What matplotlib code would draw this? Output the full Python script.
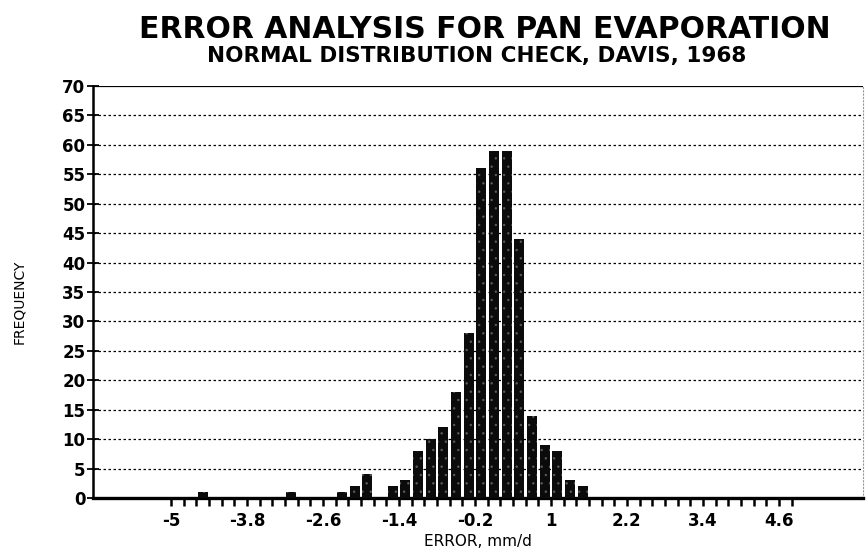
import numpy as np
import matplotlib.pyplot as plt

# bin centres (mm/d) and counts
bin_centers = [-4.5, -3.1, -2.3, -2.1, -1.9, -1.5, -1.3, -1.1, -0.9, -0.7,
               -0.5, -0.3, -0.1, 0.1, 0.3, 0.5, 0.7, 0.9, 1.1, 1.3, 1.5]
frequency = [1, 1, 1, 2, 4, 2, 3, 8, 10, 12,
             18, 28, 56, 59, 59, 44, 14, 9, 8, 3, 2]

x_labels = [-5, -3.8, -2.6, -1.4, -0.2, 1, 2.2, 3.4, 4.6]
y_ticks = list(range(0, 75, 5))

plt.rcParams["font.family"] = ["DejaVu Sans"]
plt.rcParams["hatch.linewidth"] = 0.5

fig = plt.figure(figsize=(8.66, 5.56), dpi=100)
ax = fig.add_axes([93 / 866, 1 - 498 / 556, 1 - 93 / 866 - 0.004, (498 - 86) / 556])

# dotted grid, solid line on top
for y in y_ticks[1:-1]:
    ax.axhline(y, color="black", lw=0.9, ls=(0, (2, 2)), zorder=1)
ax.axhline(70, color="black", lw=1.6, zorder=1)

# black bars with a faint speckle like the scan
ax.bar(bin_centers, frequency, width=0.16, color="#0b0b0b", edgecolor="none", zorder=3)
ax.bar(bin_centers, frequency, width=0.16, fill=False, hatch="..", edgecolor="#5c5c5c",
       linewidth=0, zorder=4)

ax.set_xlim(-6.23, 5.92)
ax.set_ylim(0, 70)

ax.set_yticks(y_ticks)
ax.set_yticklabels([str(t) for t in y_ticks], fontweight="bold", fontsize=12)
ax.set_xticks(x_labels)
ax.set_xticklabels([f"{v:g}" for v in x_labels], fontweight="bold", fontsize=12)
ax.set_xticks(np.arange(-5, 4.81, 0.2), minor=True)

ax.tick_params(axis="y", direction="inout", length=9, width=1.3, pad=1)
ax.tick_params(axis="x", which="both", direction="out", length=6, width=1.8, pad=4)

ax.spines["top"].set_visible(False)
ax.spines["right"].set_linestyle((0, (1, 2)))
ax.spines["right"].set_color("#999999")
ax.spines["right"].set_linewidth(0.8)
ax.spines["left"].set_linewidth(1.8)
ax.spines["bottom"].set_linewidth(2.4)

ax.set_xlabel("ERROR, mm/d", fontsize=11, labelpad=3)
fig.text(19 / 866, 1 - 302 / 556, "FREQUENCY", rotation=90, fontsize=10,
         ha="center", va="center")

fig.text(485 / 866, 1 - 30 / 556, "ERROR ANALYSIS FOR PAN EVAPORATION",
         fontsize=21.5, fontweight="bold", ha="center", va="center")
fig.text(477 / 866, 1 - 56 / 556, "NORMAL DISTRIBUTION CHECK, DAVIS, 1968",
         fontsize=15.5, fontweight="bold", ha="center", va="center")

fig.savefig("out.png", dpi=100)
